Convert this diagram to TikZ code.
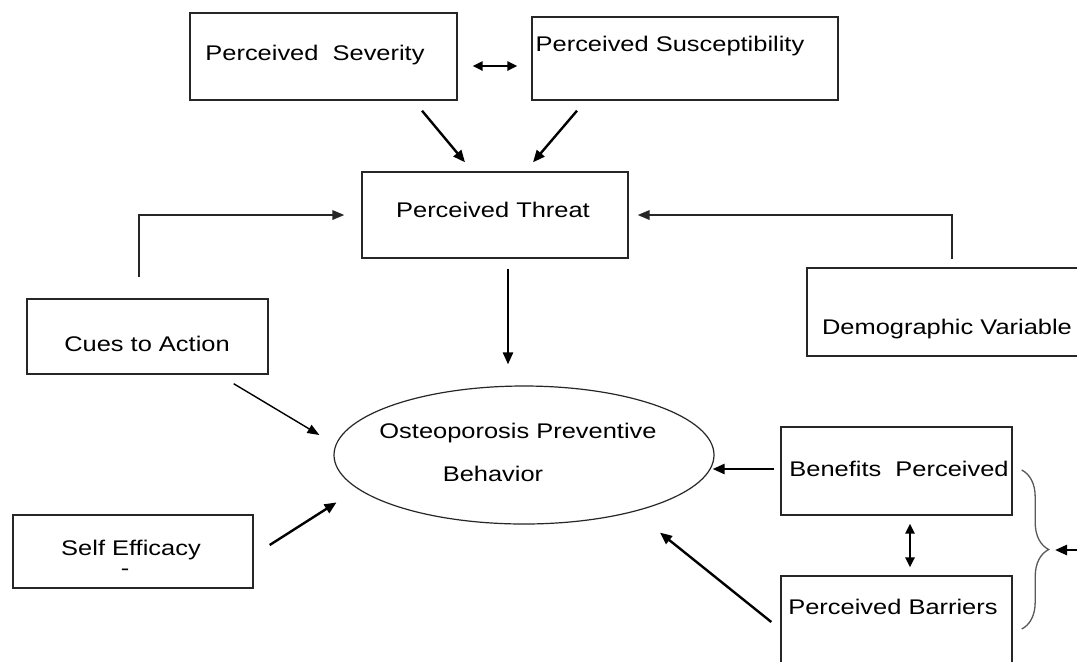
\documentclass[tikz,border=0pt]{standalone}
\usepackage{fontspec}
\setmainfont{Liberation Sans}[FakeStretch=1.2]
\usetikzlibrary{arrows.meta,shapes.geometric,decorations.pathreplacing}
\begin{document}
\begin{tikzpicture}[x=0.5pt,y=-0.5pt,
  box/.style={draw=black!85,line width=0.7pt,rectangle,inner sep=0pt},
  txt/.style={inner sep=0pt,anchor=base,font=\fontsize{10.6}{12}\selectfont},
  arr/.style={line width=1.2pt,-{Triangle[length=6pt,width=5pt]}},
  thinarr/.style={line width=0.7pt,-{Triangle[length=6pt,width=4.6pt]}},
  dbl/.style={line width=1.2pt,{Triangle[length=5pt,width=4.6pt]}-{Triangle[length=5pt,width=4.6pt]}},
  elbow/.style={draw=black!85,line width=0.85pt,-{Triangle[length=6pt,width=4.8pt]}}]
\useasboundingbox (0,0) rectangle (1077,661);
\clip (0,0) rectangle (1077,661);
\fill[white] (0,0) rectangle (1077,661);
% boxes
\node[box,minimum width=133.5pt,minimum height=43.5pt] (sev) at (323.5,56.5) {};
\node[box,minimum width=153pt,minimum height=41.5pt] (sus) at (685,58.5) {};
\node[box,minimum width=133pt,minimum height=43pt] (thr) at (495,215) {};
\node[box,minimum width=120.5pt,minimum height=37.5pt] (cue) at (147.5,336.5) {};
\node[box,minimum width=139pt,minimum height=44pt] (dem) at (946,312) {};
\node[box,minimum width=120pt,minimum height=36.5pt] (sel) at (133,551.5) {};
\node[box,minimum width=115.5pt,minimum height=44pt] (ben) at (896.5,471) {};
\node[box,minimum width=115.5pt,minimum height=52pt] (bar) at (896.5,628) {};
\node[draw=black!85,line width=0.6pt,ellipse,minimum width=190pt,minimum height=69pt,inner sep=0pt] (ell) at (524,455) {};
% texts
\node[txt] (tsev) at (315,60) {Perceived\ \ Severity};
\node[txt] (tsus) at (670,51.5) {Perceived Susceptibility};
\node[txt] (tthr) at (493,217.5) {Perceived Threat};
\node[txt] (tcue) at (147,351.5) {Cues to Action};
\node[txt] (tdem) at (947,334.5) {Demographic Variable};
\node[txt] (tell1) at (518,438.5) {Osteoporosis Preventive};
\node[txt] (tell2) at (493,481.5) {Behavior};
\node[txt] (tsel) at (131,555.5) {Self Efficacy};
\node[txt] (tdash) at (125,575) {-};
\node[txt] (tben) at (899,476.5) {Benefits\ \ Perceived};
\node[txt] (tbar) at (893,614.5) {Perceived Barriers};
% connectors
\draw[dbl] ([shift={(15,9.5)}]sev.east) -- ([shift={(-14,7.5)}]sus.west);
\draw[arr] ([shift={(98.5,10)}]sev.south) -- ([shift={(-30,-9)}]thr.north);
\draw[arr] ([shift={(-108,10)}]sus.south) -- ([shift={(38,-9)}]thr.north);
\draw[arr] ([shift={(13,10)}]thr.south) -- ([shift={(-16,-21)}]ell.north);
\draw[elbow] ([shift={(-8.5,-21)}]cue.north) |- ([shift={(-17,0)}]thr.west);
\draw[elbow] ([shift={(6,-8)}]dem.north) |- ([shift={(9,0)}]thr.east);
\draw[thinarr] ([shift={(-35,9)}]cue.south east) -- ([shift={(-14,-20)}]ell.west);
\draw[arr] ([shift={(16,-6.5)}]sel.east) -- ([shift={(-52.7,-1.8)}]ell.south west);
\draw[arr] ([shift={(-6,-2)}]ben.west) -- ([shift={(-2,14)}]ell.east);
\draw[dbl] ([shift={(13.5,8)}]ben.south) -- ([shift={(13.5,-8)}]bar.north);
\draw[arr] ([shift={(-9,-6)}]bar.west) -- ([shift={(136,8)}]ell.south);
% brace
\draw[black!65,line width=0.65pt,decorate,decoration={brace,amplitude=13.5pt,aspect=0.5}]
  ([shift={(9,-1)}]ben.east) -- ([shift={(9,1)}]bar.east);
\coordinate (btip) at (1055,550);
\coordinate (bsrc) at (1085,550);
\draw[arr] (bsrc) -- (btip);
\end{tikzpicture}
\end{document}
